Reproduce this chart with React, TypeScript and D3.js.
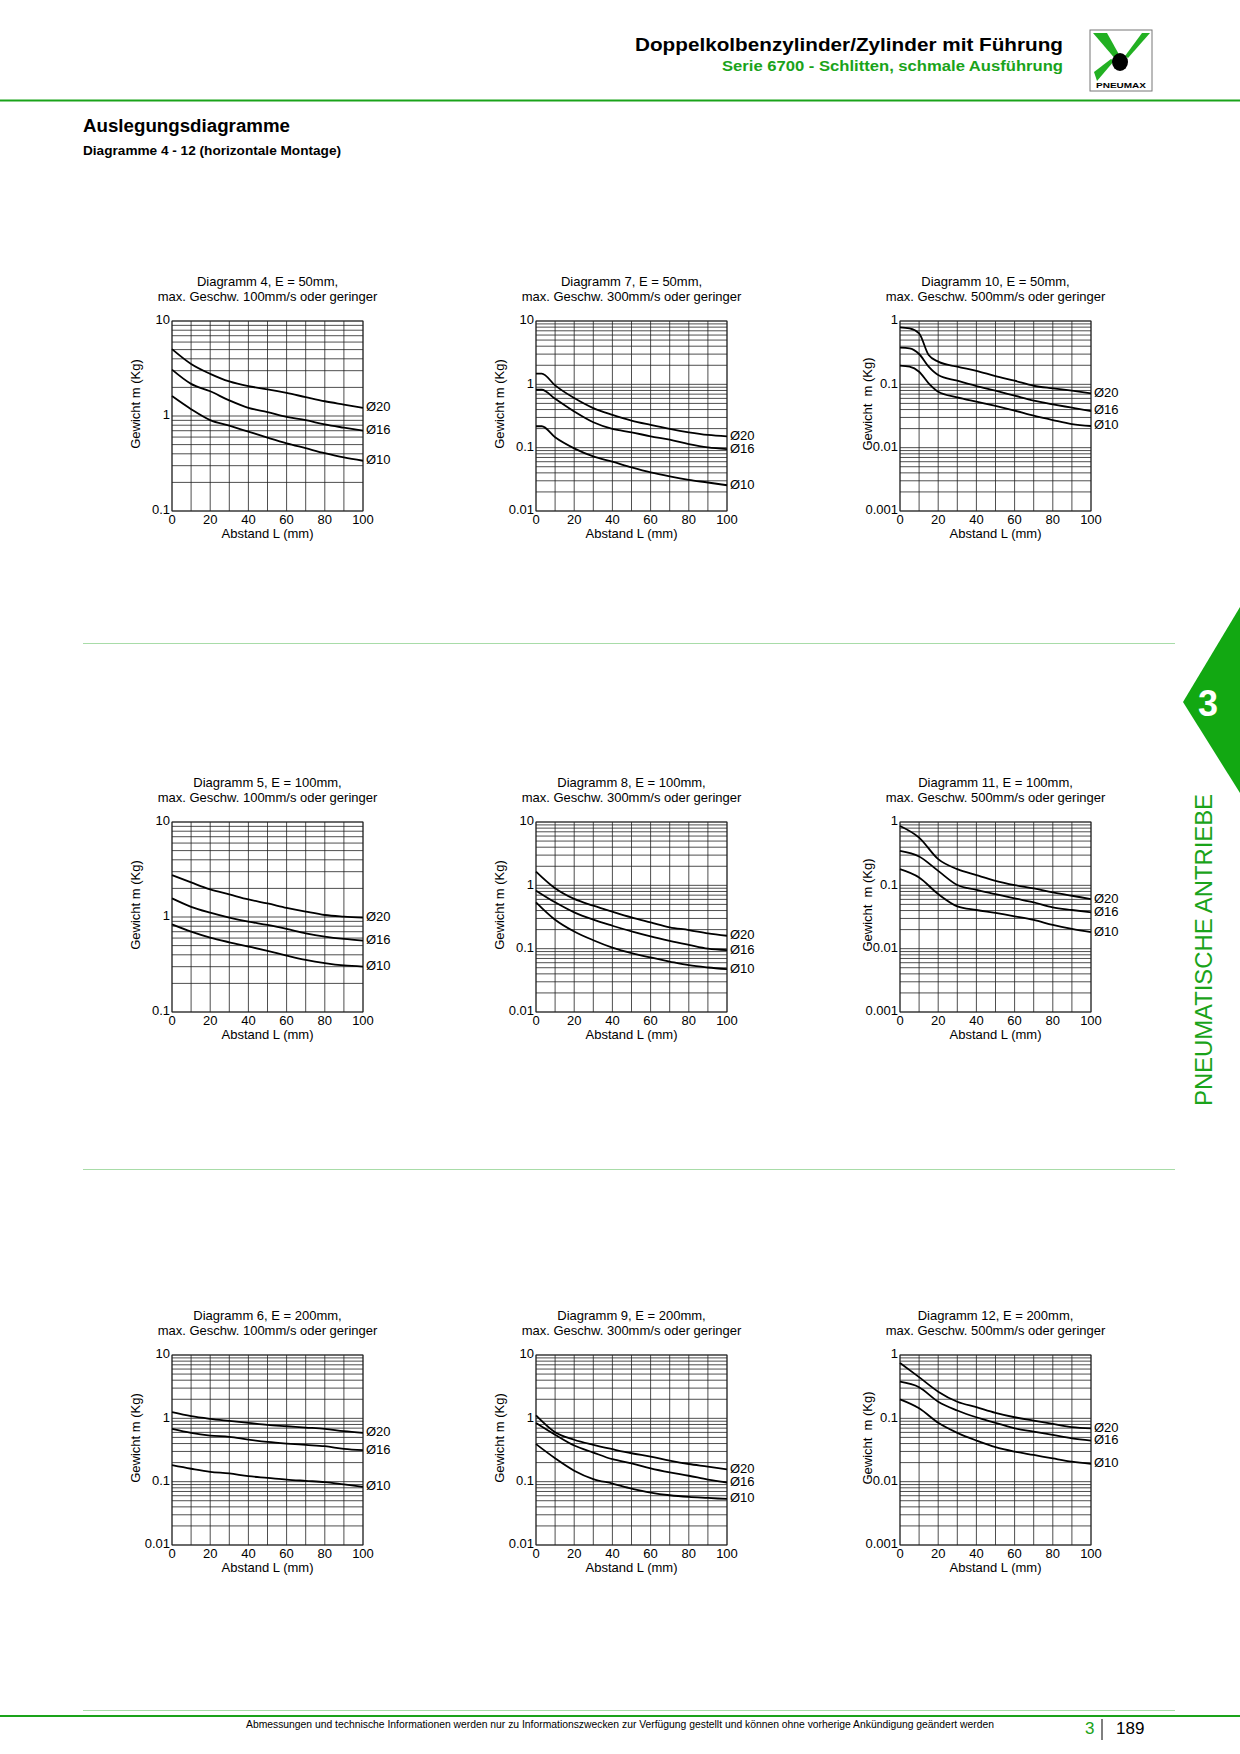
import React from 'react';
import * as d3 from 'd3';

const GREEN = '#1aa31a';
const LIGHT_GREEN = '#a8dca8';
const FONT = '"Liberation Sans", Arial, Helvetica, sans-serif';

// distances (mm) at which the curves were read
const distance = [0, 10, 20, 30, 40, 50, 60, 70, 80, 90, 100];
const distance7 = [0, 3, 10, 20, 30, 40, 50, 60, 70, 80, 90, 100];
const distance10 = [0, 5, 10, 15, 20, 30, 40, 50, 60, 70, 80, 90, 100];
const xTicks = [0, 20, 40, 60, 80, 100];
const seriesNames = ['Ø20', 'Ø16', 'Ø10'];
const strokes = [50, 100, 200];
const speeds = [100, 300, 500];

// Diagramm 4: E = 50mm, 100mm/s
const d4_20 = [5.06, 3.53, 2.78, 2.31, 2.06, 1.91, 1.75, 1.58, 1.43, 1.32, 1.22];
const d4_16 = [3.08, 2.18, 1.82, 1.46, 1.22, 1.1, 0.98, 0.905, 0.815, 0.753, 0.7];
const d4_10 = [1.62, 1.18, 0.905, 0.79, 0.684, 0.592, 0.516, 0.458, 0.406, 0.366, 0.338];
// Diagramm 5: E = 100mm, 100mm/s
const d5_20 = [2.76, 2.31, 1.95, 1.73, 1.53, 1.39, 1.25, 1.14, 1.05, 1.01, 0.984];
const d5_16 = [1.57, 1.28, 1.11, 0.984, 0.893, 0.824, 0.749, 0.674, 0.622, 0.588, 0.565];
const d5_10 = [0.838, 0.702, 0.607, 0.542, 0.489, 0.44, 0.393, 0.354, 0.327, 0.309, 0.301];
// Diagramm 6: E = 200mm, 100mm/s
const d6_20 = [1.25, 1.08, 0.98, 0.91, 0.847, 0.787, 0.75, 0.715, 0.681, 0.626, 0.589];
const d6_16 = [0.681, 0.589, 0.535, 0.509, 0.462, 0.425, 0.4, 0.381, 0.363, 0.33, 0.314];
const d6_10 = [0.182, 0.16, 0.143, 0.135, 0.122, 0.115, 0.108, 0.103, 0.0984, 0.0904, 0.083];
// Diagramm 7: E = 50mm, 300mm/s
const d7_20 = [1.48, 1.48, 0.964, 0.607, 0.421, 0.33, 0.268, 0.229, 0.198, 0.175, 0.159, 0.151];
const d7_16 = [0.822, 0.822, 0.592, 0.373, 0.252, 0.198, 0.175, 0.151, 0.134, 0.114, 0.101, 0.095];
const d7_10 = [0.218, 0.218, 0.146, 0.0976, 0.0728, 0.06, 0.0488, 0.0406, 0.0351, 0.031, 0.0282, 0.0255];
// Diagramm 8: E = 100mm, 300mm/s
const d8_20 = [1.65, 0.9, 0.61, 0.478, 0.384, 0.312, 0.26, 0.217, 0.197, 0.174, 0.16];
const d8_16 = [0.826, 0.54, 0.375, 0.287, 0.23, 0.187, 0.156, 0.133, 0.115, 0.1, 0.095];
const d8_10 = [0.54, 0.287, 0.187, 0.136, 0.104, 0.085, 0.0726, 0.0627, 0.0548, 0.0504, 0.0474];
// Diagramm 9: E = 200mm, 300mm/s
const d9_20 = [1.11, 0.601, 0.459, 0.382, 0.326, 0.281, 0.249, 0.215, 0.19, 0.173, 0.156];
const d9_16 = [0.845, 0.551, 0.372, 0.288, 0.226, 0.195, 0.162, 0.14, 0.124, 0.108, 0.097];
const d9_10 = [0.392, 0.234, 0.149, 0.11, 0.0935, 0.078, 0.0673, 0.061, 0.0574, 0.0553, 0.0533];
// Diagramm 10: E = 50mm, 500mm/s
const d10_20 = [0.794, 0.766, 0.638, 0.29, 0.228, 0.19, 0.163, 0.135, 0.114, 0.095, 0.0865, 0.0794, 0.0721];
const d10_16 = [0.379, 0.37, 0.301, 0.19, 0.14, 0.114, 0.094, 0.0794, 0.0662, 0.0552, 0.0483, 0.0428, 0.0379];
const d10_10 = [0.197, 0.19, 0.158, 0.104, 0.0766, 0.0624, 0.0532, 0.0455, 0.0384, 0.032, 0.0273, 0.0236, 0.022];
// Diagramm 11: E = 100mm, 500mm/s
const d11_20 = [0.865, 0.567, 0.259, 0.18, 0.145, 0.118, 0.101, 0.0894, 0.0773, 0.0685, 0.0607];
const d11_16 = [0.35, 0.285, 0.169, 0.101, 0.0851, 0.0728, 0.0622, 0.0538, 0.0449, 0.0408, 0.0375];
const d11_10 = [0.18, 0.133, 0.0728, 0.0466, 0.0408, 0.0366, 0.0324, 0.0284, 0.0237, 0.0205, 0.0182];
// Diagramm 12: E = 200mm, 500mm/s
const d12_20 = [0.75, 0.447, 0.264, 0.183, 0.15, 0.122, 0.104, 0.092, 0.0817, 0.0724, 0.0695];
const d12_16 = [0.379, 0.31, 0.183, 0.133, 0.104, 0.085, 0.0695, 0.0616, 0.0546, 0.0483, 0.0446];
const d12_10 = [0.199, 0.144, 0.085, 0.059, 0.0446, 0.035, 0.0298, 0.0264, 0.0233, 0.0207, 0.0191];

const charts = [
  { id: 4, col: 0, row: 0, dist: distance, series: [d4_20, d4_16, d4_10], yDomain: [0.1, 10] },
  { id: 5, col: 0, row: 1, dist: distance, series: [d5_20, d5_16, d5_10], yDomain: [0.1, 10] },
  { id: 6, col: 0, row: 2, dist: distance, series: [d6_20, d6_16, d6_10], yDomain: [0.01, 10] },
  { id: 7, col: 1, row: 0, dist: distance7, series: [d7_20, d7_16, d7_10], yDomain: [0.01, 10] },
  { id: 8, col: 1, row: 1, dist: distance, series: [d8_20, d8_16, d8_10], yDomain: [0.01, 10] },
  { id: 9, col: 1, row: 2, dist: distance, series: [d9_20, d9_16, d9_10], yDomain: [0.01, 10] },
  { id: 10, col: 2, row: 0, dist: distance10, series: [d10_20, d10_16, d10_10], yDomain: [0.001, 1] },
  { id: 11, col: 2, row: 1, dist: distance, series: [d11_20, d11_16, d11_10], yDomain: [0.001, 1] },
  { id: 12, col: 2, row: 2, dist: distance, series: [d12_20, d12_16, d12_10], yDomain: [0.001, 1] },
];

const colLeft = [172, 536, 900];
const rowTop = [321, 822, 1355];
const W = 191;
const H = 190;

function Chart({ cfg }: { cfg: any }) {
  const left = colLeft[cfg.col];
  const top = rowTop[cfg.row];
  const x = d3.scaleLinear().domain([0, 100]).range([left, left + W]);
  const y = d3.scaleLog().domain(cfg.yDomain).range([top + H, top]);
  const grid = y.ticks();
  const decades = grid.filter((v) => Math.abs(Math.log10(v) - Math.round(Math.log10(v))) < 1e-9);
  const line = d3
    .line<number>()
    .x((_, i) => x(cfg.dist[i]))
    .y((v) => y(v))
    .curve(d3.curveMonotoneX);
  const cx = left + W / 2;
  const yTitle = cfg.col === 2 ? 'Gewicht  m (Kg)' : 'Gewicht m (Kg)';
  const yTitleX = cfg.col === 2 ? left - 28 : left - 32;

  return (
    <g fontFamily={FONT} fontSize={13} fill="#000">
      <text x={cx} y={top - 35} textAnchor="middle">
        {`Diagramm ${cfg.id}, E = ${strokes[cfg.row]}mm,`}
      </text>
      <text x={cx} y={top - 20} textAnchor="middle">
        {`max. Geschw. ${speeds[cfg.col]}mm/s oder geringer`}
      </text>
      {grid.map((v, i) => (
        <line key={'h' + i} x1={left} x2={left + W} y1={y(v)} y2={y(v)} stroke="#222" strokeWidth={0.8} />
      ))}
      {d3.range(0, 101, 10).map((v) => (
        <line key={'v' + v} x1={x(v)} x2={x(v)} y1={top} y2={top + H} stroke="#222" strokeWidth={0.8} />
      ))}
      <rect x={left} y={top} width={W} height={H} fill="none" stroke="#222" strokeWidth={0.9} />
      {decades.map((v, i) => (
        <text key={'yl' + i} x={left - 2} y={y(v)} textAnchor="end" dominantBaseline="middle">
          {String(v)}
        </text>
      ))}
      {xTicks.map((v) => (
        <text key={'xl' + v} x={x(v)} y={top + H + 13} textAnchor="middle">
          {v}
        </text>
      ))}
      <text x={cx} y={top + H + 27} textAnchor="middle">
        Abstand L (mm)
      </text>
      <text
        transform={`translate(${yTitleX},${top + 83}) rotate(-90)`}
        textAnchor="middle"
        style={{ whiteSpace: 'pre' }}
      >
        {yTitle}
      </text>
      {cfg.series.map((s: number[], i: number) => (
        <g key={'s' + i}>
          <path d={line(s) || ''} fill="none" stroke="#000" strokeWidth={1.8} />
          <text x={left + W + 3} y={y(s[s.length - 1])} dominantBaseline="middle">
            {seriesNames[i]}
          </text>
        </g>
      ))}
    </g>
  );
}

function Logo() {
  const bx = 1090;
  const by = 30;
  return (
    <g transform={`translate(${bx},${by})`}>
      <rect x={0} y={0} width={62} height={61} fill="#fff" stroke="#777" strokeWidth={1} />
      <path d="M3,3 L17,3 L31,28 L27,31 Z" fill="#22b022" />
      <path d="M52,3 L60,3 L38,28 L35,26 Z" fill="#22b022" />
      <path d="M4,42 L7,51 L24,31 L21,29 Z" fill="#22b022" />
      <ellipse cx={30} cy={32} rx={8} ry={9} fill="#000" />
      <text x={31} y={58} textAnchor="middle" fontFamily={FONT} fontWeight="bold" fontSize={7} fill="#000" textLength={50} lengthAdjust="spacingAndGlyphs">
        PNEUMAX
      </text>
    </g>
  );
}

export default function App() {
  return (
    <svg
      width={1240}
      height={1754}
      viewBox="0 0 1240 1754"
      style={{ position: 'absolute', left: 0, top: 0, background: '#fff' }}
    >
      <rect x={0} y={0} width={1240} height={1754} fill="#fff" />
      {/* header */}
      <text x={1063} y={51} textAnchor="end" fontFamily={FONT} fontWeight="bold" fontSize={18} textLength={428} lengthAdjust="spacingAndGlyphs">
        Doppelkolbenzylinder/Zylinder mit Führung
      </text>
      <text x={1063} y={71} textAnchor="end" fontFamily={FONT} fontWeight="bold" fontSize={14} fill={GREEN} textLength={341} lengthAdjust="spacingAndGlyphs">
        Serie 6700 - Schlitten, schmale Ausführung
      </text>
      <Logo />
      <line x1={0} x2={1240} y1={100.5} y2={100.5} stroke={GREEN} strokeWidth={2} />

      <text x={83} y={132} fontFamily={FONT} fontWeight="bold" fontSize={17.5} textLength={207} lengthAdjust="spacingAndGlyphs">
        Auslegungsdiagramme
      </text>
      <text x={83} y={155} fontFamily={FONT} fontWeight="bold" fontSize={12.5} textLength={258} lengthAdjust="spacingAndGlyphs">
        Diagramme 4 - 12 (horizontale Montage)
      </text>

      {charts.map((c) => (
        <Chart key={c.id} cfg={c} />
      ))}

      <line x1={83} x2={1175} y1={643.5} y2={643.5} stroke={LIGHT_GREEN} strokeWidth={1} />
      <line x1={83} x2={1175} y1={1169.5} y2={1169.5} stroke={LIGHT_GREEN} strokeWidth={1} />

      {/* side tab */}
      <polygon points="1183,702 1240,607 1240,793" fill="#12a812" />
      <text x={1208} y={716} textAnchor="middle" fontFamily={FONT} fontWeight="bold" fontSize={36} fill="#fff">
        3
      </text>
      <text
        transform="translate(1212,950) rotate(-90)"
        textAnchor="middle"
        fontFamily={FONT}
        fontSize={24}
        fill={GREEN}
        textLength={312}
        lengthAdjust="spacingAndGlyphs"
      >
        PNEUMATISCHE ANTRIEBE
      </text>

      {/* footer */}
      <line x1={83} x2={1175} y1={1710.5} y2={1710.5} stroke={LIGHT_GREEN} strokeWidth={1} />
      <line x1={0} x2={1240} y1={1716} y2={1716} stroke={GREEN} strokeWidth={2} />
      <text x={246} y={1728} fontFamily={FONT} fontSize={10} textLength={748} lengthAdjust="spacingAndGlyphs">
        Abmessungen und technische Informationen werden nur zu Informationszwecken zur Verfügung gestellt und können ohne vorherige Ankündigung geändert werden
      </text>
      <text x={1085} y={1734} fontFamily={FONT} fontSize={17} fill={GREEN}>
        3
      </text>
      <line x1={1102} x2={1102} y1={1719} y2={1740} stroke="#000" strokeWidth={1} />
      <text x={1116} y={1734} fontFamily={FONT} fontSize={17} fill="#000">
        189
      </text>
    </svg>
  );
}
